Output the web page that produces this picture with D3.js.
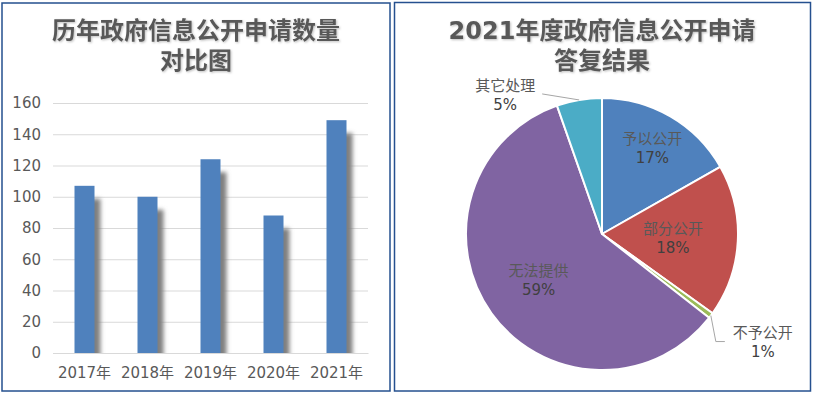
<!DOCTYPE html>
<html><head><meta charset="utf-8">
<script src="https://cdn.jsdelivr.net/npm/d3@7/dist/d3.min.js"></script>
<style>body{margin:0;background:#fff} svg{display:block}</style>
</head><body>
<svg id="c" width="813" height="393"></svg>
<script>
// ---- data ----
const years = ["2017年","2018年","2019年","2020年","2021年"];
const applications = [107,100,124,88,149];
const yTicks = [0,20,40,60,80,100,120,140,160];
const replyCategories = ["予以公开","部分公开","不予公开","无法提供","其它处理"];
const replyCounts = [25,27,1,88,8];
const replyColors = ["#4f81bd","#c0504d","#9bbb59","#8064a2","#4bacc6"];
const leftTitle = ["历年政府信息公开申请数量","对比图"];
const rightTitle = ["2021年度政府信息公开申请","答复结果"];

// ---- layout (not data) ----
const FONT = "'DejaVu Sans','Noto Sans CJK SC',sans-serif";
const CJK = "'Noto Sans CJK SC','DejaVu Sans',sans-serif";
const labelLayout = [
  {r:100}, {r:71}, {outside:true, elbow:[5,26], tail:9, text:[47,0]},
  {r:78}, {outside:true, elbow:[-37,-6], tail:0, text:[-37,1]}
];

const svg = d3.select("#c");
const defs = svg.append("defs");
const sh = defs.append("filter").attr("id","bshadow").attr("x","-50%").attr("y","-50%").attr("width","200%").attr("height","200%");
sh.append("feGaussianBlur").attr("stdDeviation",2.2);
const ts = defs.append("filter").attr("id","tshadow").attr("x","-10%").attr("y","-20%").attr("width","120%").attr("height","150%");
ts.append("feDropShadow").attr("dx",1).attr("dy",1).attr("stdDeviation",0.8).attr("flood-color","#000").attr("flood-opacity",0.25);

// panel borders
svg.append("rect").attr("x",2).attr("y",3).attr("width",388).attr("height",388)
  .attr("fill","none").attr("stroke","#25508f").attr("stroke-width",1.5);
svg.append("rect").attr("x",394.5).attr("y",2.5).attr("width",416).attr("height",388.5)
  .attr("fill","none").attr("stroke","#25508f").attr("stroke-width",1.5);

function title(lines, cx){
  const t = svg.append("text").attr("text-anchor","middle").attr("font-family",FONT)
    .attr("font-weight","bold").attr("font-size",24).attr("fill","#595959").attr("filter","url(#tshadow)");
  lines.forEach((l,i)=> t.append("tspan").attr("x",cx).attr("y",39+i*30).text(l));
}
title(leftTitle,196);
title(rightTitle,602);

// ---- bar chart ----
const x = d3.scaleBand().domain(years).range([53,368]).paddingInner(0.6825).paddingOuter(0.34125);
const y = d3.scaleLinear().domain([0,160]).range([353,103]);

const gy = svg.append("g").attr("transform","translate(53,0)")
  .call(d3.axisLeft(y).tickValues(yTicks).tickSize(-315).tickPadding(12));
gy.select(".domain").remove();
gy.selectAll(".tick line").attr("stroke","#d9d9d9").attr("stroke-width",1);
gy.selectAll(".tick text").attr("font-family",FONT).attr("font-size",15).attr("fill","#595959");

defs.append("clipPath").attr("id","plotclip").append("rect").attr("x",53).attr("y",90).attr("width",330).attr("height",263);
const shadows = svg.append("g").attr("clip-path","url(#plotclip)");
shadows.selectAll("rect").data(applications).join("rect")
  .attr("x",(d,i)=>x(years[i])+6).attr("y",d=>y(d)+13)
  .attr("width",x.bandwidth()).attr("height",d=>y(0)-y(d)+10)
  .attr("fill","#7f7f7f").attr("filter","url(#bshadow)");
svg.append("g").selectAll("rect").data(applications).join("rect")
  .attr("x",(d,i)=>x(years[i])).attr("y",d=>y(d))
  .attr("width",x.bandwidth()).attr("height",d=>y(0)-y(d))
  .attr("fill","#4f81bd");

const gx = svg.append("g").attr("transform","translate(0,353)")
  .call(d3.axisBottom(x).tickSize(0).tickPadding(14));
gx.select(".domain").attr("stroke","#d9d9d9");
gx.selectAll(".tick text").attr("font-family",FONT).attr("font-size",15).attr("fill","#595959");

// ---- pie chart ----
const cx = 602, cy = 234, R = 136;
const total = d3.sum(replyCounts);
const pie = d3.pie().sort(null).value(d=>d);
const arcs = pie(replyCounts);
const arc = d3.arc().innerRadius(0).outerRadius(R);
const gp = svg.append("g").attr("transform",`translate(${cx},${cy})`);
gp.selectAll("path").data(arcs).join("path")
  .attr("d",arc).attr("fill",(d,i)=>replyColors[i])
  .attr("stroke","#fff").attr("stroke-width",2).attr("stroke-linejoin","round");

const pct = d3.format(".0%");
arcs.forEach((a,i)=>{
  const L = labelLayout[i];
  const mid = (a.startAngle+a.endAngle)/2;
  let tx, ty;
  if(!L.outside){
    tx = Math.sin(mid)*L.r; ty = -Math.cos(mid)*L.r;
  } else {
    const px = Math.sin(mid)*R, py = -Math.cos(mid)*R;
    const ex = px+L.elbow[0], ey = py+L.elbow[1];
    const pts = [[px,py],[ex,ey],[ex+L.tail,ey]];
    gp.append("path").attr("d",d3.line()(pts)).attr("fill","none")
      .attr("stroke","#a6a6a6").attr("stroke-width",1);
    tx = ex + L.text[0]; ty = ey + L.text[1];
  }
  const t = gp.append("text").attr("text-anchor","middle");
  t.append("tspan").attr("x",tx).attr("y",ty-3.5).attr("font-family",CJK)
    .attr("font-size",15).attr("fill","#595959").text(replyCategories[i]);
  t.append("tspan").attr("x",tx).attr("y",ty+15.5).attr("font-family",FONT)
    .attr("font-size",15).attr("fill","#404040").text(pct(replyCounts[i]/total));
});
</script>
</body></html>
